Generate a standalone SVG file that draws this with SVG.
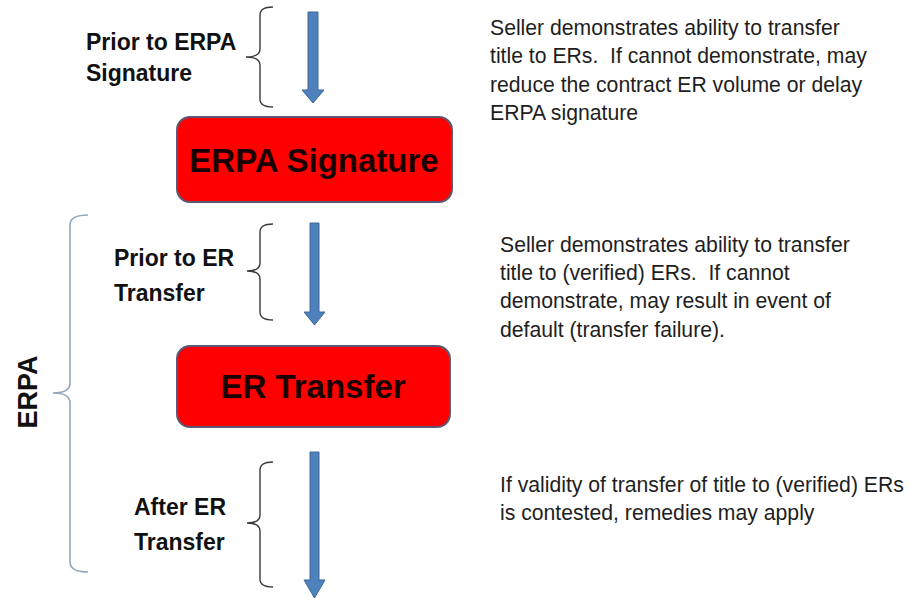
<svg xmlns="http://www.w3.org/2000/svg" width="914" height="600" viewBox="0 0 914 600">
<style>
.bg{fill:#ffffff}
.box{fill:#ff0000;stroke:#5b5874;stroke-width:2}
.boxt{font-family:"Liberation Sans",Arial,sans-serif;font-weight:bold;font-size:33px;fill:#1a0000;text-anchor:middle}
.lbl{font-family:"Liberation Sans",Arial,sans-serif;font-weight:bold;font-size:23px;fill:#111111}
.desc{font-family:"Liberation Sans",Arial,sans-serif;font-size:21.2px;fill:#1e1e1e}
.br{fill:none;stroke:#3a3a3a;stroke-width:1.4}
.bigbr{fill:none;stroke:#8fa9bf;stroke-width:1.6}
.arr{fill:#4f81bd;stroke:#3d6896;stroke-width:1}
</style>
<rect class="bg" x="0" y="0" width="914" height="600"/>
<g id="connectors">
  <path class="arr" d="M308,12 H318 V90 H324 L313,103 L302,90 H308 Z"/>
  <path class="arr" d="M310,223 H319 V312 H325 L314.5,325 L304,312 H310 Z"/>
  <path class="arr" d="M310,452 H319 V580 H325 L314.5,598 L304,580 H310 Z"/>
  <path class="br" d="M273,7 Q260,7 260,15 V49 Q260,57 246,57 Q260,57 260,65 V99 Q260,107 273,107"/>
  <path class="br" d="M273,224 Q260,224 260,232 V263 Q260,271 247,271 Q260,271 260,279 V312 Q260,320 273,320"/>
  <path class="br" d="M273,462 Q260,462 260,470 V515 Q260,523 247,523 Q260,523 260,531 V579 Q260,587 273,587"/>
  <path class="bigbr" d="M88,215 Q70,215 70,225 V383 Q70,393 53,393 Q70,393 70,403 V562 Q70,572 88,572"/>
</g>
<g id="node-erpa-signature">
  <rect class="box" x="177" y="117" width="275" height="85" rx="13" ry="13"/>
  <text class="boxt" x="314" y="172">ERPA Signature</text>
</g>
<g id="node-er-transfer">
  <rect class="box" x="177" y="346" width="273" height="81" rx="13" ry="13"/>
  <text class="boxt" x="313" y="398">ER Transfer</text>
</g>
<g id="label-prior-erpa">
  <text class="lbl" x="86" y="50">Prior to ERPA</text>
  <text class="lbl" x="86" y="81">Signature</text>
</g>
<g id="label-prior-er">
  <text class="lbl" x="114" y="266">Prior to ER</text>
  <text class="lbl" x="114" y="301">Transfer</text>
</g>
<g id="label-after-er">
  <text class="lbl" x="134" y="515">After ER</text>
  <text class="lbl" x="134" y="550">Transfer</text>
</g>
<g id="label-erpa">
  <text class="lbl" transform="translate(37,392) rotate(-90)" text-anchor="middle" style="font-size:27px">ERPA</text>
</g>
<g id="desc-1">
  <text class="desc" x="490" y="35">Seller demonstrates ability to transfer</text>
  <text class="desc" x="490" y="63" xml:space="preserve">title to ERs.  If cannot demonstrate, may</text>
  <text class="desc" x="490" y="92">reduce the contract ER volume or delay</text>
  <text class="desc" x="490" y="120">ERPA signature</text>
</g>
<g id="desc-2">
  <text class="desc" x="500" y="252">Seller demonstrates ability to transfer</text>
  <text class="desc" x="500" y="280" xml:space="preserve">title to (verified) ERs.  If cannot</text>
  <text class="desc" x="500" y="308">demonstrate, may result in event of</text>
  <text class="desc" x="500" y="337">default (transfer failure).</text>
</g>
<g id="desc-3">
  <text class="desc" x="500" y="492">If validity of transfer of title to (verified) ERs</text>
  <text class="desc" x="500" y="520">is contested, remedies may apply</text>
</g>
</svg>
